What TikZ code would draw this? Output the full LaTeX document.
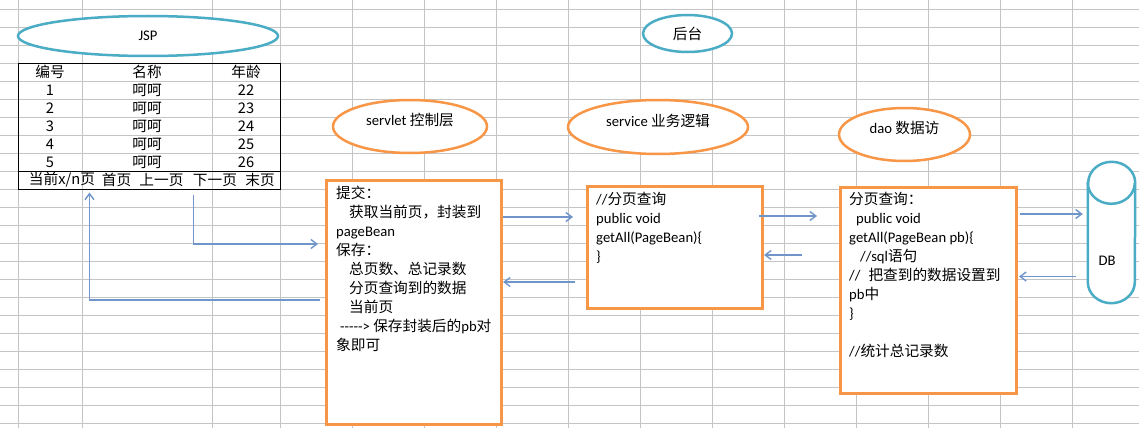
\documentclass[tikz,border=0pt]{standalone}
\usepackage{fontspec}
\setmainfont{Carlito}
\newfontfamily\cjk{Noto Sans CJK SC}
\newcommand{\zh}[1]{{\cjk #1}}
\usetikzlibrary{shapes.geometric, arrows.meta}

\definecolor{gridgray}{HTML}{C4C4C4}
\definecolor{tealline}{HTML}{4BACC6}
\definecolor{orangeline}{HTML}{F79646}
\definecolor{linkblue}{HTML}{6F95CA}

\begin{document}
\begin{tikzpicture}[x=1pt, y=-1pt, font=\fontsize{14.67}{19}\selectfont,
		tealshape/.style={ellipse, draw=tealline, line width=2.5pt, fill=white, inner sep=0pt},
		orangeshape/.style={ellipse, draw=orangeline, line width=2.5pt, fill=white, inner sep=0pt, text depth=14pt},
		layerbox/.style={draw=orangeline, line width=3pt, fill=white, inner sep=0pt},
		boxtext/.style={anchor=north west, align=left, inner sep=0pt},
		cell/.style={inner sep=0pt, font=\fontsize{14.67}{19}\cjk},
		link/.style={draw=linkblue, line width=1.4pt, -{Straight Barb[length=6pt,width=9pt]}}]
		\useasboundingbox (0,0) rectangle (1139,428);
		\fill[white] (0,0) rectangle (1139,428);
		\foreach \x in {18,82,212,280}{
			\draw[gridgray] (\x,0) -- (\x,428);
		}
		\foreach \x in {352,424,...,1072}{
			\draw[gridgray] (\x,0) -- (\x,428);
		}
		\foreach \k in {0,...,23}{
			\draw[gridgray] (0,9.3+18*\k) -- (1139,9.3+18*\k);
		}

		\node[tealshape, minimum width=260pt, minimum height=40pt] (jsp) at (148,36) {JSP};
		\node[tealshape, minimum width=89pt, minimum height=37pt] (houtai) at (687.5,33.5) {\zh{后台}};
		\node[orangeshape, minimum width=154pt, minimum height=53pt] (servlet) at (410,126.5) {servlet \zh{控制层}};
		\node[orangeshape, minimum width=180pt, minimum height=54pt] (service) at (658,127) {service \zh{业务逻辑}};
		\node[orangeshape, minimum width=131pt, minimum height=53pt] (dao) at (904.5,134.5) {dao \zh{数据访}};

		\node[draw, line width=1pt, minimum width=262pt, minimum height=126pt, inner sep=0pt] (tbl) at (149,126) {};
		\draw[line width=1pt] ([yshift=18pt]tbl.south west) -- ([yshift=18pt]tbl.south east);
		\node[cell] (hno) at (50,72) {编号};
		\node[cell] (hname) at (147,72) {名称};
		\node[cell] (hage) at (246,72) {年龄};
		\foreach \i/\age in {1/22,2/23,3/24,4/25,5/26}{
			\node[cell] (no\i) at (50,72+18*\i) {\i};
			\node[cell] (name\i) at (147,72+18*\i) {呵呵};
			\node[cell] (age\i) at (246,72+18*\i) {\age};
		}
		\node[cell] (pcur) at (62,180) {当前x/n页};
		\node[cell] (pfirst) at (116.5,180) {首页};
		\node[cell] (pprev) at (161.5,180) {上一页};
		\node[cell] (pnext) at (215,180) {下一页};
		\node[cell] (plast) at (260,180) {末页};

		\node[layerbox, minimum width=175pt, minimum height=244pt] (servletbox) at (414,302.5) {};
		\node[boxtext] (servlettext) at ([xshift=11pt,yshift=-6.7pt]servletbox.north west) {\zh{提交：}\\
			\hspace*{13pt}\zh{获取当前页，封装到}\\
			pageBean\\
			\zh{保存：}\\
			\hspace*{13pt}\zh{总页数、总记录数}\\
			\hspace*{13pt}\zh{分页查询到的数据}\\
			\hspace*{13pt}\zh{当前页}\\
			\hspace*{4pt}-{}-{}-{}-{}-> \zh{保存封装后的}pb\zh{对}\\
			\zh{象即可}};

		\node[layerbox, minimum width=175pt, minimum height=122pt] (servicebox) at (675,247.5) {};
		\node[boxtext] (servicetext) at ([xshift=10pt,yshift=-6.7pt]servicebox.north west) {//\zh{分页查询}\\
			public void\\
			getAll(PageBean)\{\\
			\}};

		\node[layerbox, minimum width=176pt, minimum height=206pt] (daobox) at (928.5,290.5) {};
		\node[boxtext] (daotext) at ([xshift=10pt,yshift=-5.7pt]daobox.north west) {\zh{分页查询：}\\
			\hspace*{7pt}public void\\
			getAll(PageBean pb)\{\\
			\hspace*{11pt}//sql\zh{语句}\\
			//\hspace*{8pt}\zh{把查到的数据设置到}\\
			pb\zh{中}\\
			\}\\
			\mbox{}\\
			//\zh{统计总记录数}};

		\node[minimum width=47pt, minimum height=141pt, inner sep=0pt] (db) at (1111.5,232.5) {};
		\draw[draw=tealline, line width=2.5pt, fill=white] ([yshift=-21pt]db.north west) -- ([yshift=21pt]db.south west)
			arc[start angle=180, end angle=360, x radius=23.5pt, y radius=21pt] -- ([yshift=-21pt]db.north east)
			arc[start angle=0, end angle=180, x radius=23.5pt, y radius=21pt] -- cycle;
		\draw[draw=tealline, line width=2.5pt] ([yshift=-21pt]db.north west) arc[start angle=180, end angle=360, x radius=23.5pt, y radius=21pt];
		\node (dblabel) at (1107,261) {DB};

		\draw[link] ([xshift=-5pt,yshift=2.5pt]servletbox.west) -| ([xshift=72pt,yshift=-3pt]tbl.south west);
		\draw[link] ([xshift=176pt,yshift=-5pt]tbl.south west) |- ([xshift=-7pt,yshift=58.5pt]servletbox.west);
		\draw[link] ([yshift=85.5pt]servletbox.east) -- ([xshift=-13pt,yshift=30.5pt]servicebox.west);
		\draw[link] ([xshift=-11pt,yshift=-34.5pt]servicebox.west) -- ([yshift=20.5pt]servletbox.east);
		\draw[link] ([xshift=-5pt,yshift=31.5pt]servicebox.east) -- ([xshift=-22pt,yshift=74.5pt]daobox.west);
		\draw[link] ([xshift=-37pt,yshift=35.5pt]daobox.west) -- ([yshift=-7.5pt]servicebox.east);
		\draw[link] ([xshift=2pt,yshift=76.5pt]daobox.east) -- ([xshift=-5pt,yshift=18.5pt]db.west);
		\draw[link] ([xshift=-12pt,yshift=-44pt]db.west) -- ([xshift=1pt,yshift=14pt]daobox.east);
	\end{tikzpicture}
\end{document}
